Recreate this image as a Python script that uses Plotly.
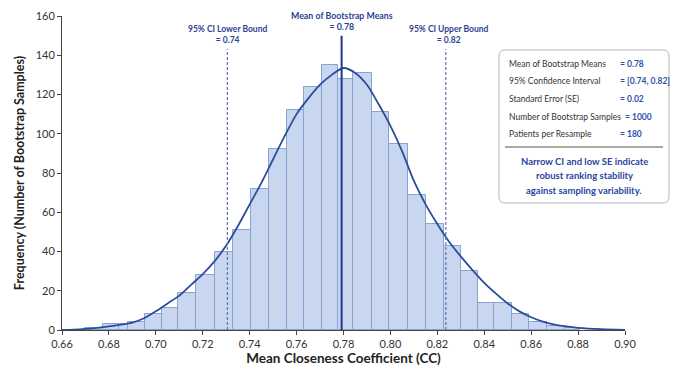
import numpy as np
import plotly.graph_objects as go

# ---------------- data ----------------
bin_edges = [0.6698, 0.6774, 0.6844, 0.6883, 0.6954, 0.7025, 0.7096, 0.7171, 0.7252,
             0.7328, 0.7406, 0.7484, 0.7558, 0.7633, 0.7710, 0.7778, 0.7842, 0.7920,
             0.7995, 0.8074, 0.8152, 0.8228, 0.8300, 0.8375, 0.8443, 0.8517, 0.8592,
             0.8666, 0.8744, 0.8808]
counts = [1, 3, 3, 4, 8, 11, 19, 28, 40, 51, 72, 92, 112, 124, 135, 128, 131, 111,
          95, 69, 54, 43, 30, 14, 14, 8, 4, 2, 1]

kde_x = [0.660, 0.665, 0.670, 0.675, 0.680, 0.685, 0.690, 0.695, 0.700, 0.705, 0.710,
         0.715, 0.720, 0.725, 0.730, 0.735, 0.740, 0.745, 0.750, 0.755, 0.760, 0.765,
         0.770, 0.775, 0.780, 0.785, 0.790, 0.795, 0.800, 0.805, 0.810, 0.815, 0.820,
         0.825, 0.830, 0.835, 0.840, 0.845, 0.850, 0.855, 0.860, 0.865, 0.870, 0.875,
         0.880, 0.890, 0.900]
kde_y = [0.0, 0.2, 0.6, 1.1, 1.8, 2.7, 3.8, 6.0, 9.5, 13.5, 17.5,
         23.0, 28.5, 35.0, 43.0, 53.0, 64.0, 75.0, 87.0, 99.0, 110.0, 118.0,
         125.0, 130.0, 133.5, 131.0, 125.0, 115.0, 104.0, 91.0, 76.0, 64.0, 54.0,
         45.0, 37.5, 30.5, 24.0, 18.5, 13.5, 9.5, 6.5, 4.3, 2.8, 1.8,
         1.1, 0.4, 0.1]

mean_value_line = 0.7792
ci_lower_line = 0.7305
ci_upper_line = 0.8236
mean_line_top = 150
ci_line_top = 143

x_ticks = [0.66, 0.68, 0.70, 0.72, 0.74, 0.76, 0.78, 0.80, 0.82, 0.84, 0.86, 0.88, 0.90]
x_tick_labels = ["0.66", "0.68", "0.70", "0.72", "0.74", "0.76", "0.78", "0.80",
                 "0.82", "0.84", "0.86", "0.88", "0.90"]
y_ticks = [0, 20, 40, 60, 80, 100, 120, 140, 160]

stat_labels = ["Mean of Bootstrap Means", "95% Confidence Interval", "Standard Error (SE)",
               "Number of Bootstrap Samples", "Patients per Resample"]
stat_values = ["= 0.78", "= [0.74, 0.82]", "= 0.02", "= 1000", "= 180"]
note_lines = ["Narrow CI and low SE indicate", "robust ranking stability",
              "against sampling variability."]

# ---------------- geometry helpers ----------------
# the page body adds an 8px offset, so the figure is drawn 8px smaller and all
# screen-pixel positions below are converted with that offset
OFF = 8
W, H = 680 - OFF, 371 - OFF
L, R, T, B = 62 - OFF, 55, 16 - OFF, 41
PW, PH = W - L - R, H - T - B


def px(xs):
    return (xs - OFF - L) / PW


def py(ys):
    return (H - B - (ys - OFF)) / PH


edges = np.array(bin_edges)
centers = (edges[:-1] + edges[1:]) / 2
widths = np.diff(edges)

FONT = "Lato, 'Open Sans', sans-serif"
BLUE_TXT = "#2b3f93"

fig = go.Figure()
fig.add_trace(go.Bar(
    x=centers, y=counts, width=widths,
    marker=dict(color="#c8d7ef", line=dict(color="#88a2d2", width=1)),
    hoverinfo="skip", showlegend=False))
fig.add_trace(go.Scatter(
    x=kde_x, y=kde_y, mode="lines",
    line=dict(color="#2c4d9c", width=1.8, shape="spline", smoothing=0.8),
    hoverinfo="skip", showlegend=False))

shapes = []
shapes.append(dict(type="line", xref="x", yref="y", x0=mean_value_line, x1=mean_value_line,
                   y0=0, y1=mean_line_top, line=dict(color="#1f368c", width=2), layer="above"))
for xv in (ci_lower_line, ci_upper_line):
    shapes.append(dict(type="line", xref="x", yref="y", x0=xv, x1=xv, y0=0, y1=ci_line_top,
                       line=dict(color="#5b72b4", width=1.2, dash="3px,2px"), layer="above"))

# rounded info box (screen pixels)
x0b, x1b, y0b, y1b, rr = 499, 669, 50, 203, 6


def P(xs, ys):
    return f"{px(xs):.5f},{py(ys):.5f}"


path = (f"M {P(x0b + rr, y0b)} L {P(x1b - rr, y0b)} Q {P(x1b, y0b)} {P(x1b, y0b + rr)} "
        f"L {P(x1b, y1b - rr)} Q {P(x1b, y1b)} {P(x1b - rr, y1b)} "
        f"L {P(x0b + rr, y1b)} Q {P(x0b, y1b)} {P(x0b, y1b - rr)} "
        f"L {P(x0b, y0b + rr)} Q {P(x0b, y0b)} {P(x0b + rr, y0b)} Z")
shapes.append(dict(type="path", xref="paper", yref="paper", path=path,
                   fillcolor="white", line=dict(color="#b5b5b5", width=1), layer="above"))
shapes.append(dict(type="line", xref="paper", yref="paper", x0=px(505), x1=px(663),
                   y0=py(147), y1=py(147), line=dict(color="#555555", width=1), layer="above"))

annotations = []
annotations.append(dict(xref="x", yref="paper", x=mean_value_line, y=py(33.5), yanchor="bottom",
                        xanchor="center", showarrow=False, align="center",
                        text="<b>Mean of Bootstrap Means<br>= 0.78</b>",
                        font=dict(family=FONT, size=8.8, color=BLUE_TXT)))
annotations.append(dict(xref="x", yref="paper", x=ci_lower_line, y=py(47), yanchor="bottom",
                        xanchor="center", showarrow=False, align="center",
                        text="<b>95% CI Lower Bound<br>= 0.74</b>",
                        font=dict(family=FONT, size=8.5, color=BLUE_TXT)))
annotations.append(dict(xref="x", yref="paper", x=ci_upper_line + 0.0015, y=py(47), yanchor="bottom",
                        xanchor="center", showarrow=False, align="center",
                        text="<b>95% CI Upper Bound<br>= 0.82</b>",
                        font=dict(family=FONT, size=8.5, color=BLUE_TXT)))

row_y = [63.5, 81, 99, 116.5, 134]
val_x = [618, 618, 618, 623, 618]
for lab, val, yy, vx in zip(stat_labels, stat_values, row_y, val_x):
    annotations.append(dict(xref="paper", yref="paper", x=px(507), y=py(yy), xanchor="left",
                            yanchor="middle", showarrow=False, text=lab,
                            font=dict(family=FONT, size=8.5, color="#333333")))
    annotations.append(dict(xref="paper", yref="paper", x=px(vx), y=py(yy), xanchor="left",
                            yanchor="middle", showarrow=False, text=f"<b>{val}</b>",
                            font=dict(family=FONT, size=8.5, color="#2d4fa8")))
for line_txt, yy in zip(note_lines, [161, 175.5, 190]):
    annotations.append(dict(xref="paper", yref="paper", x=px(584), y=py(yy), xanchor="center",
                            yanchor="middle", showarrow=False, text=f"<b>{line_txt}</b>",
                            font=dict(family=FONT, size=9.5, color="#2a45a0")))

fig.update_layout(
    width=W, height=H,
    margin=dict(l=L, r=R, t=T, b=B, autoexpand=False),
    paper_bgcolor="white", plot_bgcolor="white",
    bargap=0, showlegend=False,
    shapes=shapes, annotations=annotations,
    font=dict(family=FONT, color="#333333"),
    xaxis=dict(range=[0.66, 0.90], tickvals=x_ticks, ticktext=x_tick_labels,
               showline=True, linecolor="#444444", linewidth=1, ticks="outside",
               ticklen=4, tickcolor="#444444", showgrid=False, zeroline=False,
               automargin=False,
               tickfont=dict(family=FONT, size=11, color="#333333"),
               title=dict(text="<b>Mean Closeness Coefficient (CC)</b>", standoff=4,
                          font=dict(family=FONT, size=13.5, color="#222222"))),
    yaxis=dict(range=[0, 160], tickvals=y_ticks, showline=True, linecolor="#444444",
               linewidth=1, ticks="outside", ticklen=4, tickcolor="#444444",
               showgrid=False, zeroline=False, automargin=False,
               tickfont=dict(family=FONT, size=11, color="#333333"),
               title=dict(text="<b>Frequency (Number of Bootstrap Samples)</b>", standoff=8,
                          font=dict(family=FONT, size=12.5, color="#222222"))),
)

fig.write_html("out.html")
